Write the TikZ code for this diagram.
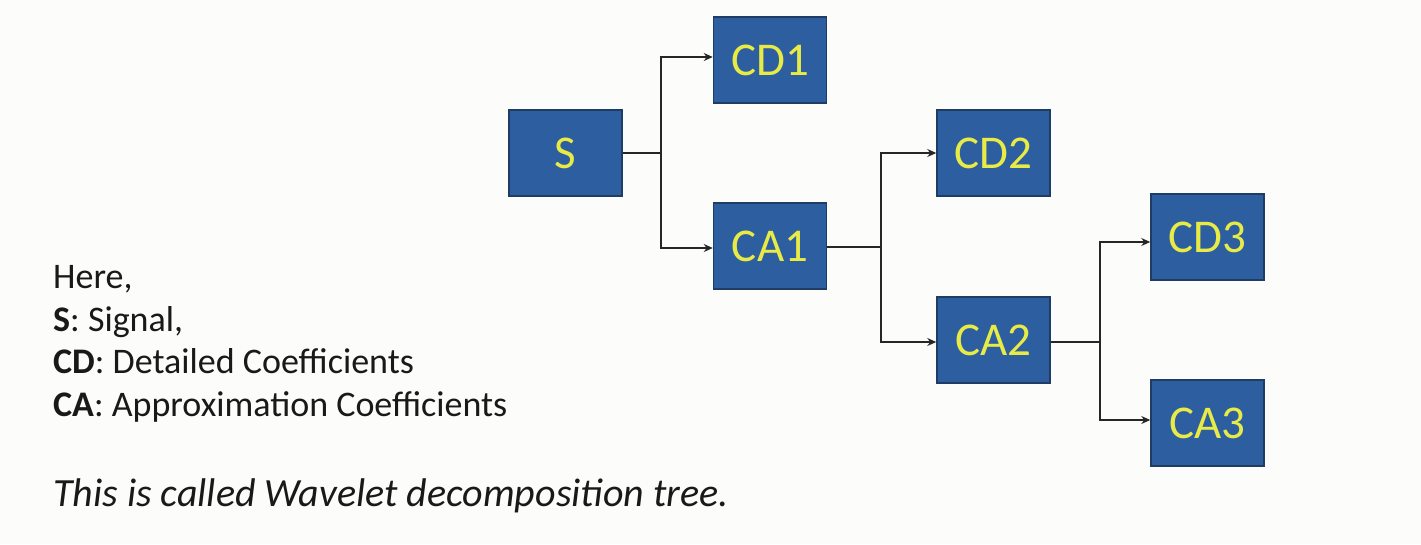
\documentclass[tikz,border=0pt]{standalone}
\usepackage{fontspec}
\setmainfont{Carlito}
\usetikzlibrary{arrows.meta}
\definecolor{boxblue}{RGB}{44,94,160}
\definecolor{boxedge}{RGB}{30,60,100}
\definecolor{boxtext}{RGB}{232,234,70}
\definecolor{bg}{RGB}{252,252,250}
\tikzset{
  coefbox/.style={draw=boxedge, line width=1.5pt, fill=boxblue, text=boxtext,
    minimum width=113pt, minimum height=86pt, inner sep=0pt,
    font=\fontsize{47}{52}\selectfont},
  conn/.style={line width=2.2pt, draw=black!85},
  arr/.style={conn, -{Stealth[length=9pt,width=8pt]}},
  legend/.style={anchor=base west, inner sep=0pt, font=\fontsize{36}{40}\selectfont, text=black!90},
}
\begin{document}
\begin{tikzpicture}[x=1pt,y=-1pt]
\fill[bg] (0,0) rectangle (1421,544);
\useasboundingbox (0,0) rectangle (1421,544);

\node[coefbox] (S)   at (565.5,153) {S};
\node[coefbox] (CD1) at (770,60)    {CD1};
\node[coefbox] (CA1) at (770,246)   {CA1};
\node[coefbox] (CD2) at (993.5,153) {CD2};
\node[coefbox] (CA2) at (993.5,340) {CA2};
\node[coefbox] (CD3) at (1207.5,237) {CD3};
\node[coefbox] (CA3) at (1207.5,423) {CA3};

\coordinate (j1) at (661,153);
\coordinate (j2) at (881,247);
\coordinate (j3) at (1100,342);

\draw[conn] (S.east) -- (j1);
\draw[arr] (j1) |- ([yshift=3pt]CD1.west);
\draw[arr] (j1) |- ([yshift=-2pt]CA1.west);
\draw[conn] ([yshift=-1pt]CA1.east) -- (j2);
\draw[arr] (j2) |- (CD2.west);
\draw[arr] (j2) |- ([yshift=-2pt]CA2.west);
\draw[conn] ([yshift=-2pt]CA2.east) -- (j3);
\draw[arr] (j3) |- ([yshift=-5pt]CD3.west);
\draw[arr] (j3) |- ([yshift=3pt]CA3.west);

\node[legend] (l0) at (53,288) {Here,};
\node[legend] (l1) at (53,331) {\textbf{S}: Signal,};
\node[legend] (l2) at (53,373) {\textbf{CD}: Detailed Coefficients};
\node[legend] (l3) at (53,416) {\textbf{CA}: Approximation Coefficients};
\node[legend, font=\fontsize{40}{44}\selectfont\itshape] (l4) at (53,506) {This is called Wavelet decomposition tree.};
\end{tikzpicture}
\end{document}
